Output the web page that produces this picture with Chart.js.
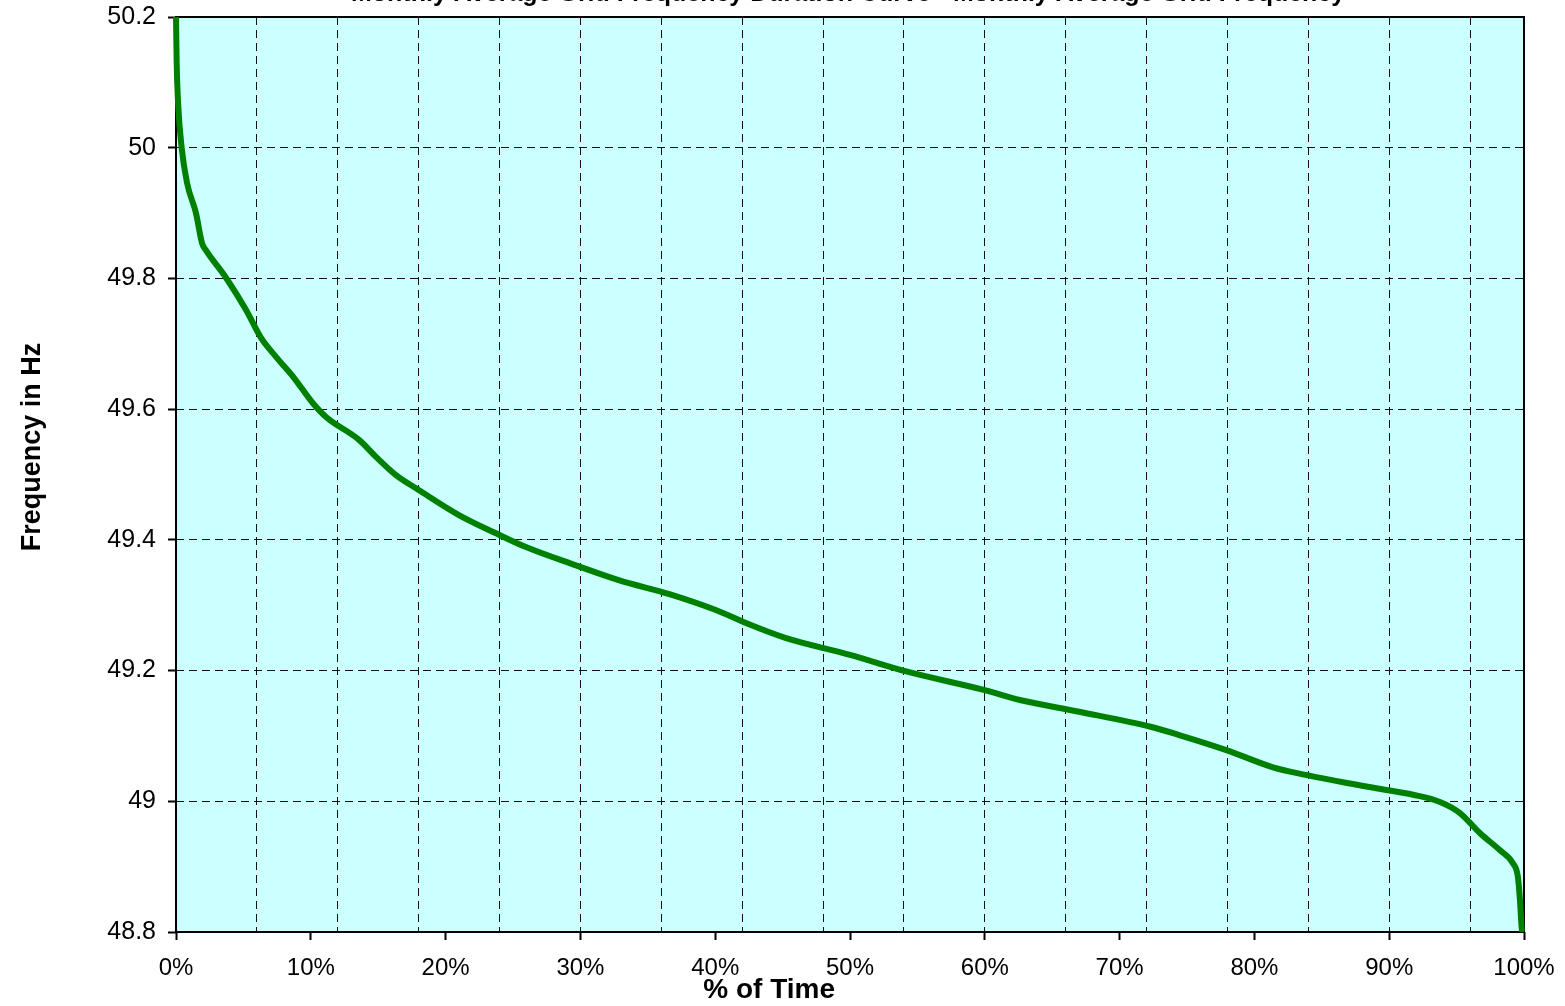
<!DOCTYPE html>
<html>
<head>
<meta charset="utf-8">
<script src="https://cdn.jsdelivr.net/npm/chart.js@4"></script>
<style>
  html, body { margin: 0; padding: 0; background: #fff; overflow: hidden; }
  #wrap { width: 1565px; height: 1006px; }
</style>
</head>
<body>
<div id="wrap"><canvas id="c" width="1565" height="1006"></canvas></div>
<script>
// ---- data ----
const timePct = [0, 0.05, 0.15, 0.42, 0.82, 1.48, 1.93, 2.23, 3.71, 5.19, 6.31, 7.42, 8.75, 10.16, 11.13, 13.58, 14.84, 16.32, 18.03, 20.99, 23.74, 25.96, 29.67, 32.9, 36.6, 40.0, 42.6, 45.2, 50.0, 54.1, 60.0, 62.6, 67.0, 72.3, 74.48, 77.97, 81.38, 83.90, 86.87, 89.91, 91.77, 93.77, 95.25, 96.74, 98.22, 99.18, 99.55, 99.70, 99.85, 100];
const freqHz = [50.2, 50.13, 50.07, 50.0, 49.946, 49.90, 49.854, 49.843, 49.801, 49.752, 49.709, 49.680, 49.648, 49.609, 49.588, 49.553, 49.527, 49.499, 49.476, 49.438, 49.410, 49.389, 49.361, 49.338, 49.317, 49.293, 49.270, 49.250, 49.224, 49.199, 49.170, 49.155, 49.137, 49.114, 49.101, 49.078, 49.052, 49.040, 49.028, 49.017, 49.010, 48.999, 48.982, 48.951, 48.925, 48.905, 48.884, 48.849, 48.803, 48.8];
const xLabelStep = 10;      // % tick labels
const xGridStep = 6;        // % vertical gridlines
const yMin = 48.8, yMax = 50.2, yStep = 0.2;
const chartTitle = "Monthly Average Grid Frequency Duration Curve - Monthly Average Grid Frequency";
const xTitle = "% of Time";
const yTitle = "Frequency in Hz";

const points = timePct.map((x, i) => ({ x: x, y: freqHz[i] }));
const FONT = "'Liberation Sans', Arial, sans-serif";

const decor = {
  id: 'decor',
  beforeDraw(chart) {
    const { ctx, chartArea: a } = chart;
    ctx.save();
    ctx.fillStyle = '#CCFFFF';
    ctx.fillRect(a.left, a.top, a.right - a.left, a.bottom - a.top);
    ctx.restore();
  },
  beforeDatasetsDraw(chart) {
    const { ctx, chartArea: a } = chart;
    ctx.save();
    ctx.strokeStyle = '#000';
    ctx.lineWidth = 2;
    ctx.strokeRect(a.left, a.top, a.right - a.left, a.bottom - a.top);
    ctx.restore();
  },
  afterDraw(chart) {
    const { ctx, chartArea: a } = chart;
    ctx.save();
    ctx.fillStyle = '#000';
    // clipped chart title (only descenders visible)
    ctx.font = "bold 25px " + FONT;
    ctx.textAlign = 'left';
    ctx.textBaseline = 'alphabetic';
    ctx.fillText(chartTitle, 351, 0.5);
    // x axis title
    ctx.font = "bold 28px " + FONT;
    ctx.textAlign = 'center';
    ctx.textBaseline = 'alphabetic';
    ctx.fillText(xTitle, a.left + (a.right - a.left) * 0.44, 998);
    // y axis title
    ctx.translate(40, a.top + (a.bottom - a.top) * 0.47);
    ctx.rotate(-Math.PI / 2);
    ctx.font = "bold 27px " + FONT;
    ctx.textAlign = 'center';
    ctx.textBaseline = 'alphabetic';
    ctx.fillText(yTitle, 0, 0);
    ctx.restore();
  }
};

new Chart(document.getElementById('c'), {
  type: 'line',
  data: {
    datasets: [{
      data: points,
      borderColor: '#008000',
      borderWidth: 6,
      pointRadius: 0,
      fill: false,
      cubicInterpolationMode: 'monotone',
      clip: { left: 4, top: 0, right: 4, bottom: 0 }
    }]
  },
  options: {
    responsive: false,
    devicePixelRatio: 1,
    animation: false,
    layout: { padding: { left: 0, right: 41, top: 17, bottom: 0 } },
    plugins: { legend: { display: false }, tooltip: { enabled: false }, title: { display: false } },
    scales: {
      x: {
        type: 'linear',
        position: 'bottom',
        min: 0, max: 100,
        ticks: {
          stepSize: xLabelStep,
          autoSkip: false,
          maxRotation: 0,
          padding: 14,
          color: '#000',
          font: { family: FONT, size: 24 },
          callback: v => v + '%'
        },
        grid: { display: true, drawOnChartArea: false, drawTicks: true, tickLength: 8, tickColor: '#000', tickWidth: 2 },
        border: { display: false },
        afterFit(s) { s.height = 74; s.paddingLeft = 0; s.paddingRight = 0; }
      },
      xg: {
        type: 'linear',
        position: 'bottom',
        min: 0, max: 100,
        ticks: { display: false, stepSize: xGridStep },
        afterBuildTicks(s) { s.ticks = s.ticks.filter(t => t.value > 0 && t.value < 100); },
        grid: { display: true, drawOnChartArea: true, drawTicks: false, color: '#111', lineWidth: 1 },
        border: { display: false, dash: [8, 5] },
        afterFit(s) { s.height = 0; s.paddingLeft = 0; s.paddingRight = 0; }
      },
      y: {
        type: 'linear',
        min: yMin, max: yMax,
        ticks: {
          stepSize: yStep,
          padding: 12,
          color: '#000',
          font: { family: FONT, size: 25 },
          callback: v => String(Number(v.toFixed(1)))
        },
        grid: { display: true, drawOnChartArea: true, drawTicks: true, tickLength: 8, color: '#111', lineWidth: 1, tickColor: '#000', tickWidth: 2 },
        border: { display: false, dash: [8, 5] },
        afterFit(s) { s.width = 176; s.paddingTop = 0; s.paddingBottom = 0; }
      }
    }
  },
  plugins: [decor]
});
</script>
</body>
</html>
